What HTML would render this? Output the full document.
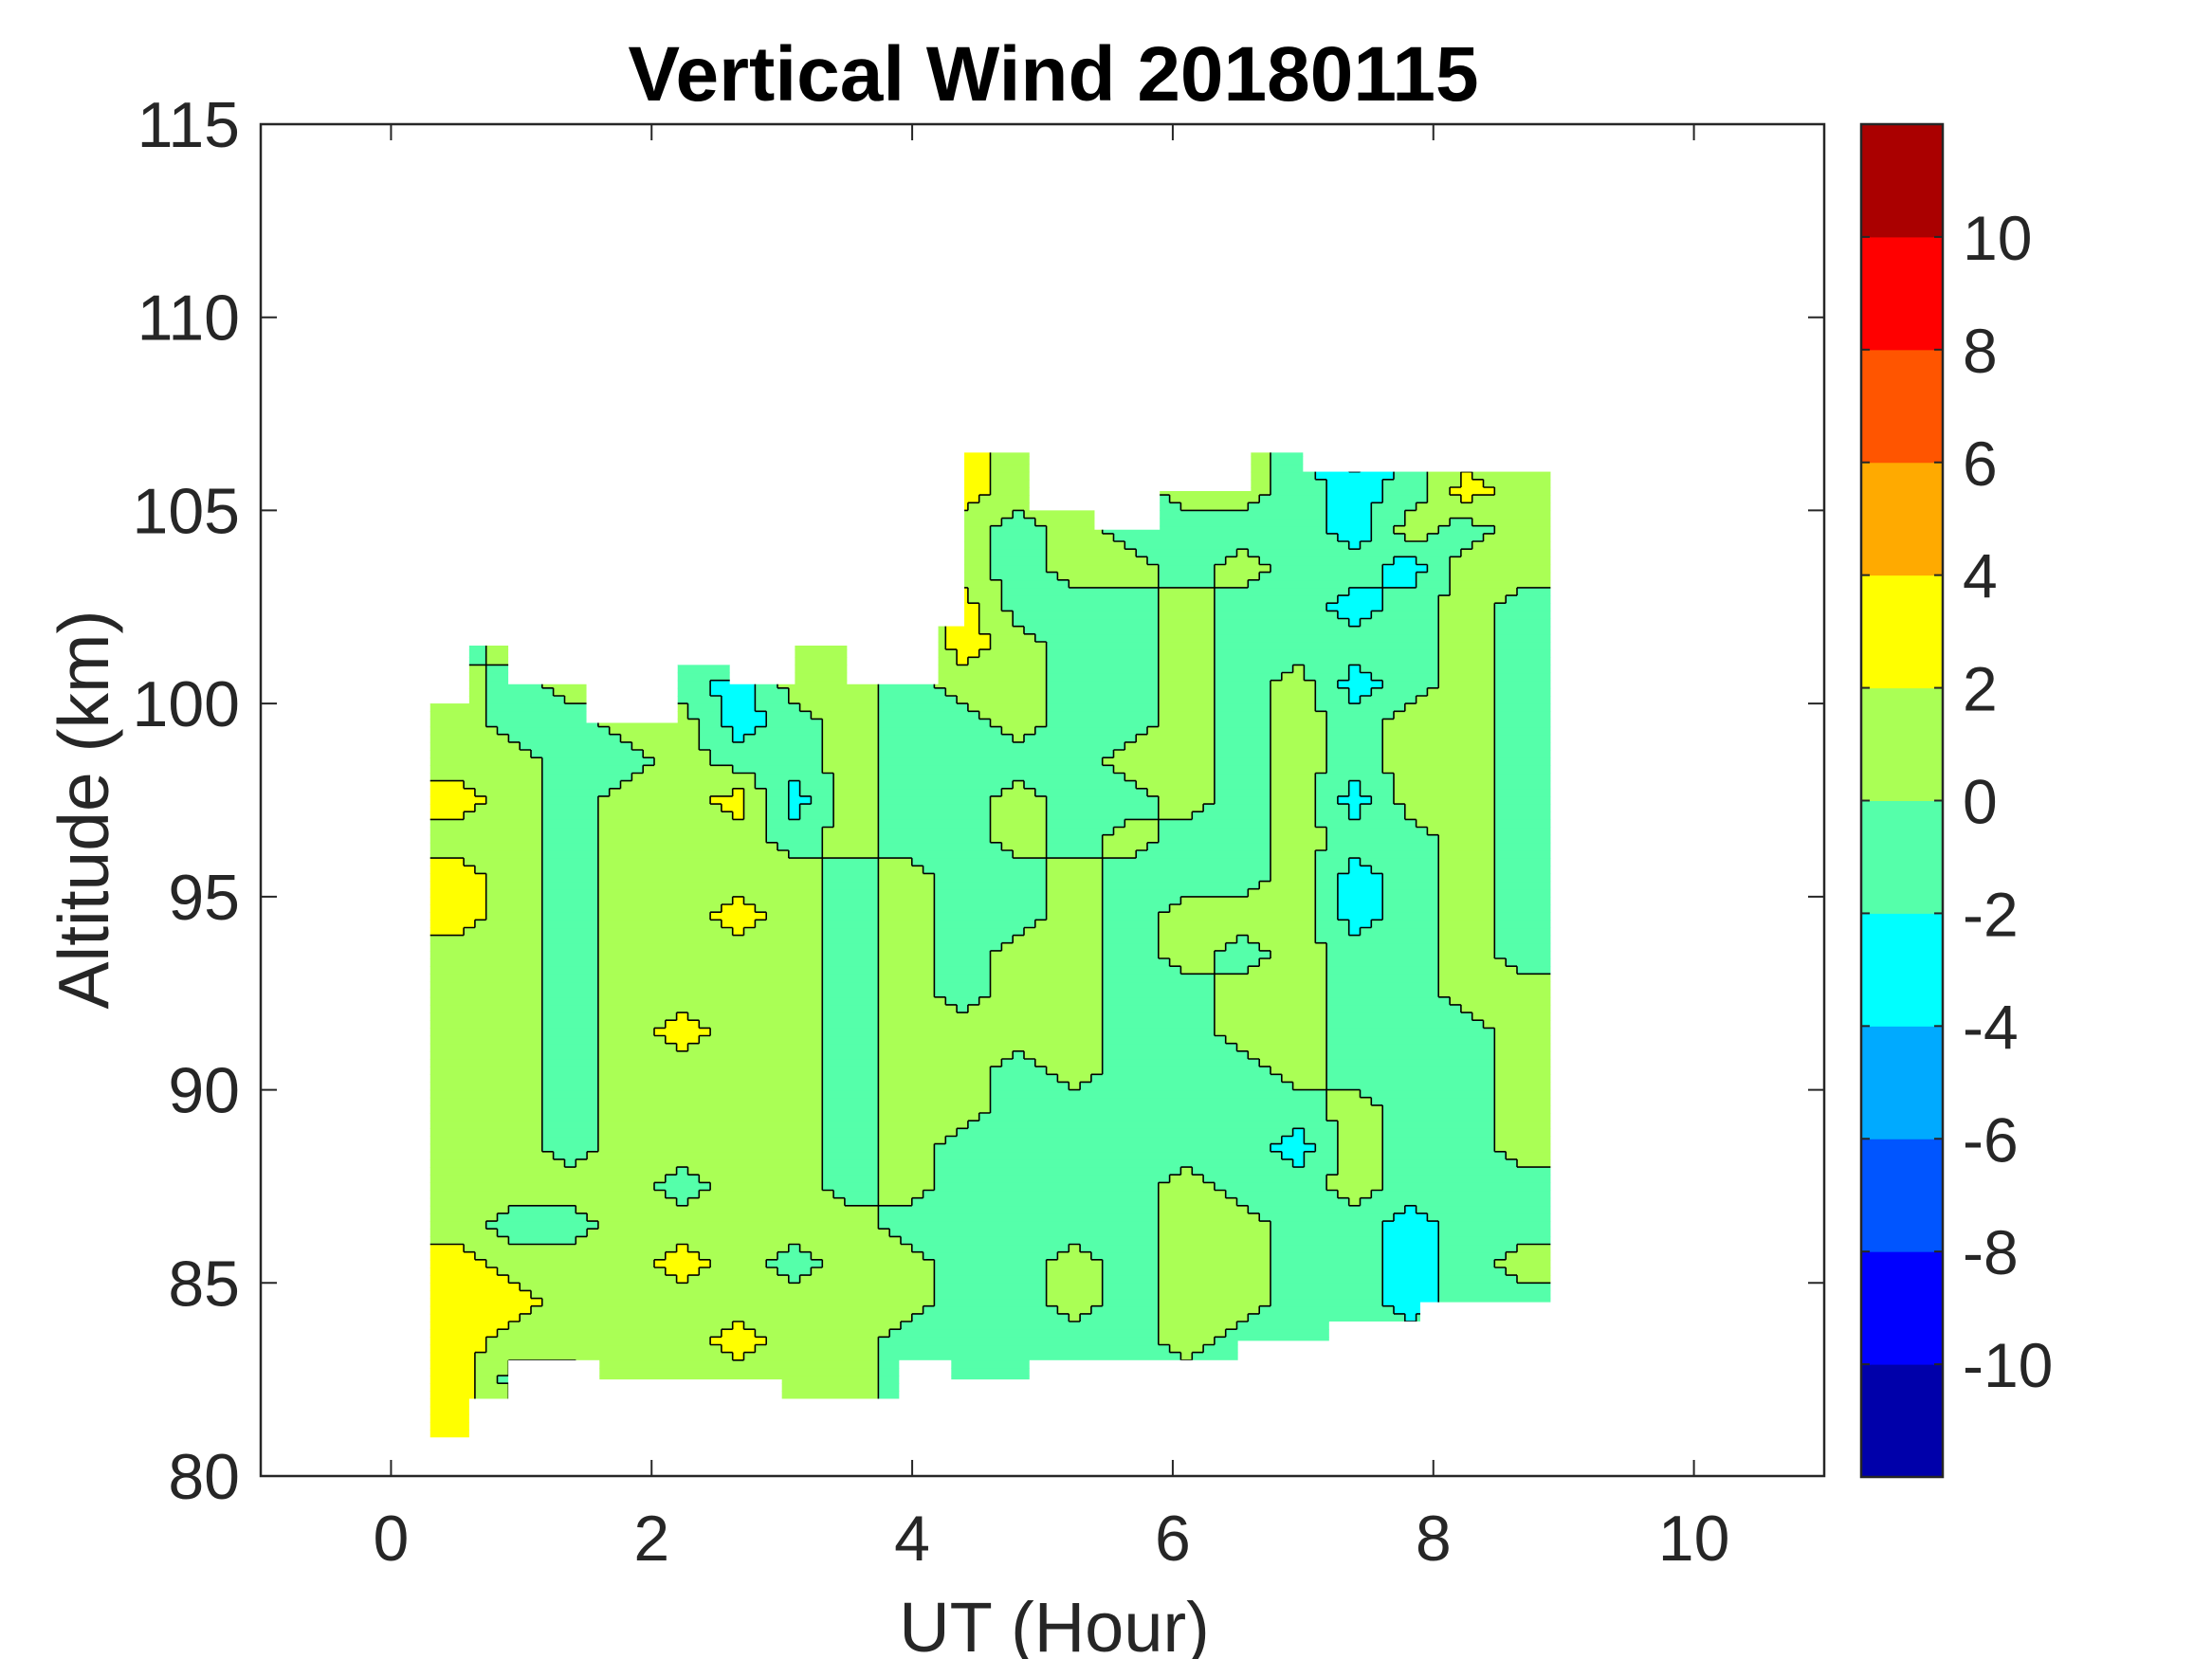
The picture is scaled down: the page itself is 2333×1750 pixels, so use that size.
<!DOCTYPE html>
<html><head><meta charset="utf-8"><style>
html,body{margin:0;padding:0;background:#fff;}
svg{display:block;font-family:"Liberation Sans",Arial,sans-serif;}
</style></head><body>
<svg id="chart" width="2333" height="1750" viewBox="0 0 2333 1750" xmlns="http://www.w3.org/2000/svg">
<rect width="2333" height="1750" fill="#fff"/>
<text x="1111" y="106" font-size="82" font-weight="bold" text-anchor="middle">Vertical Wind 20180115</text>
<g id="plot"></g>
<text x="1112" y="1742" font-size="74" text-anchor="middle" fill="#262626">UT (Hour)</text>
<text transform="translate(114,854) rotate(-90)" font-size="75" text-anchor="middle" fill="#262626">Altitude (km)</text>
</svg>
<script>
const xTicks=[0,2,4,6,8,10];
const yTicks=[80,85,90,95,100,105,110,115];
const cbTicks=[-10,-8,-6,-4,-2,0,2,4,6,8,10];
const levels=[-12,-10,-8,-6,-4,-2,0,2,4,6,8,10,12];
const levelColors=["#0000AA","#0000FF","#0055FF","#00AAFF","#00FFFF","#55FFAA","#AAFF55","#FFFF00","#FFAA00","#FF5500","#FF0000","#AA0000"];
const gridX0=0.3, gridDX=0.43, gridY0=81, gridDY=1;
// rows from 81 km upward, 20 columns each (m/s)
const windRows=[
[3,1,1,1,1,1,1,1,-1,-1,-1,-1,-1,-1,-1,-1,-1,-1,-1,-1],
[3,-1,-1,1,1,1,1,1,-1,-1,-1,-1,-1,-1,-1,-1,-1,-1,-1,-1],
[3,1,1,1,1,3,1,1,-1,-1,-1,-1,-1,1,-1,-1,-1,-1,-1,-1],
[3,3,1,1,1,1,1,1,1,-1,-1,1,-1,1,1,-1,-1,-3,-1,-1],
[3,1,1,1,3,1,-1,1,1,-1,-1,1,-1,1,1,-1,-1,-3,-1,1],
[1,-1,-1,1,1,1,1,1,-1,-1,-1,-1,-1,1,1,-1,-1,-3,-1,-1],
[1,1,1,1,-1,1,1,-1,1,-1,-1,-1,-1,1,-1,-1,1,-1,-1,-1],
[1,1,-1,1,1,1,1,-1,1,-1,-1,-1,-1,-1,-1,-3,1,-1,-1,1],
[1,1,-1,1,1,1,1,-1,1,1,-1,-1,-1,-1,-1,-1,1,-1,-1,1],
[1,1,-1,1,1,1,1,-1,1,1,-1,1,-1,-1,-1,1,-1,-1,-1,1],
[1,1,-1,1,3,1,1,-1,1,1,1,1,-1,-1,1,1,-1,-1,-1,1],
[1,1,-1,1,1,1,1,-1,1,-1,1,1,-1,-1,1,1,-1,-1,1,1],
[1,1,-1,1,1,1,1,-1,1,-1,1,1,-1,1,-1,1,-1,-1,1,-1],
[3,1,-1,1,1,3,1,-1,1,-1,-1,1,-1,1,1,1,-3,-1,1,-1],
[3,1,-1,1,1,1,1,-1,1,-1,-1,1,-1,-1,-1,1,-3,-1,1,-1],
[1,1,-1,1,1,1,-1,1,-1,-1,1,-1,1,-1,-1,1,-1,-1,1,-1],
[3,1,-1,1,1,3,-3,1,-1,-1,1,-1,-1,1,-1,1,-3,1,1,-1],
[1,1,-1,-1,1,-1,-1,1,-1,-1,-1,-1,1,1,-1,1,-1,1,1,-1],
[1,-1,-1,1,1,-3,-1,1,-1,-1,1,-1,-1,1,-1,1,-1,1,1,-1],
[1,-1,1,-1,-1,-3,1,1,-1,1,1,-1,-1,1,-1,1,-3,-1,1,-1],
[-1,1,-1,1,-1,1,1,1,-1,3,1,-1,-1,1,-1,-1,-1,-1,1,-1],
[1,1,1,1,1,1,1,1,1,3,-1,-1,-1,1,-1,-1,-3,-1,1,-1],
[1,1,1,1,1,1,1,1,1,1,-1,1,1,-1,1,-1,-1,-3,1,1],
[1,1,1,1,1,1,1,1,1,1,-1,1,-1,-1,-1,-1,-3,1,-1,1],
[1,1,1,1,1,1,1,1,1,3,1,1,-1,1,1,-1,-3,-1,3,1],
[1,1,1,1,1,1,1,1,1,3,1,1,1,1,1,-1,-5,-1,1,1]
];
const topX=[0.3,0.6,0.9,1.5,2.2,2.6,3.1,3.5,4.2,4.4,4.9,5.4,5.9,6.6,7.0,8.9];
const topAlt=[100,101.5,100.5,99.5,101,100.5,101.5,100.5,102,106.5,105,104.5,105.5,106.5,106];
const botX=[0.3,0.6,0.9,1.6,3.0,3.9,4.3,4.9,6.5,7.2,7.9,8.9];
const botAlt=[81,82,83,82.5,82,83,82.5,83,83.5,84,84.5];

const L=275,R=1924,T=131,B=1557;
const xMin=-1,xMax=11,yMin=80,yMax=115;
const sx=v=>L+(v-xMin)/(xMax-xMin)*(R-L);
const sy=v=>B-(v-yMin)/(yMax-yMin)*(B-T);
const NS="http://www.w3.org/2000/svg";
const plot=document.getElementById('plot');
function mk(tag,attrs,parent){const e=document.createElementNS(NS,tag);for(const k in attrs)e.setAttribute(k,attrs[k]);(parent||plot).appendChild(e);return e;}
function cls(v){for(let i=0;i<levels.length-1;i++){if(v>=levels[i]&&v<levels[i+1])return i;}return levels.length-2;}

let pts=[];
for(let i=0;i<topAlt.length;i++){pts.push([sx(topX[i]),sy(topAlt[i])]);pts.push([sx(topX[i+1]),sy(topAlt[i])]);}
for(let i=botAlt.length-1;i>=0;i--){pts.push([sx(botX[i+1]),sy(botAlt[i])]);pts.push([sx(botX[i]),sy(botAlt[i])]);}
const defs=mk('defs',{});
const cp=mk('clipPath',{id:'dataClip'},defs);
mk('polygon',{points:pts.map(p=>p.join(',')).join(' ')},cp);

const field=mk('g',{'clip-path':'url(#dataClip)'});


const nR=windRows.length,nC=windRows[0].length;
const SUB=5;
function val(xh,ya){
  let fc=(xh-gridX0)/gridDX-0.5, fr=(ya-gridY0)/gridDY-0.5;
  fc=Math.max(0,Math.min(nC-1,fc)); fr=Math.max(0,Math.min(nR-1,fr));
  const c0=Math.min(nC-2,Math.floor(fc)), r0=Math.min(nR-2,Math.floor(fr));
  const tx=fc-c0, ty=fr-r0;
  const a=windRows[r0][c0],b=windRows[r0][c0+1],c=windRows[r0+1][c0],d=windRows[r0+1][c0+1];
  return a*(1-tx)*(1-ty)+b*tx*(1-ty)+c*(1-tx)*ty+d*tx*ty;
}
const FC=nC*SUB, FR=nR*SUB, fdx=gridDX/SUB, fdy=gridDY/SUB;
const K=[];
for(let r=0;r<FR;r++){K.push([]);for(let c=0;c<FC;c++){K[r].push(cls(val(gridX0+(c+0.5)*fdx,gridY0+(r+0.5)*fdy)));}}
for(let r=0;r<FR;r++){
  let c=0;
  while(c<FC){
    let e=c; while(e+1<FC&&K[r][e+1]===K[r][c]) e++;
    const x0=sx(gridX0+c*fdx),x1=sx(gridX0+(e+1)*fdx);
    const y1=sy(gridY0+r*fdy),y0=sy(gridY0+(r+1)*fdy);
    const cell=mk('rect',{x:x0,y:y0,width:x1-x0+0.6,height:y1-y0+0.6,fill:levelColors[K[r][c]]},field);
    
    
    c=e+1;
  }
}
let d='';
for(let r=0;r<FR;r++)for(let c=0;c<FC;c++){
  const k=K[r][c];
  if(c+1<FC&&K[r][c+1]!==k){const x=sx(gridX0+(c+1)*fdx).toFixed(1);d+=`M${x} ${sy(gridY0+r*fdy).toFixed(1)}V${sy(gridY0+(r+1)*fdy).toFixed(1)}`;}
  if(r+1<FR&&K[r+1][c]!==k){const y=sy(gridY0+(r+1)*fdy).toFixed(1);d+=`M${sx(gridX0+c*fdx).toFixed(1)} ${y}H${sx(gridX0+(c+1)*fdx).toFixed(1)}`;}
}
const cl=mk('path',{d:d,fill:'none',stroke:'#000','stroke-width':1.6},field);



const box=mk('rect',{x:L,y:T,width:R-L,height:B-T,fill:'none',stroke:'#262626','stroke-width':2.5});


xTicks.forEach(v=>{
  const x=sx(v);
  mk('line',{x1:x,x2:x,y1:B,y2:B-17,stroke:'#262626','stroke-width':2});
  mk('line',{x1:x,x2:x,y1:T,y2:T+17,stroke:'#262626','stroke-width':2});
  const t=mk('text',{x:x,y:1646,'font-size':68,'text-anchor':'middle',fill:'#262626'});t.textContent=v;
  
  
});
yTicks.forEach(v=>{
  const y=sy(v);
  mk('line',{x1:L,x2:L+17,y1:y,y2:y,stroke:'#262626','stroke-width':2});
  mk('line',{x1:R,x2:R-17,y1:y,y2:y,stroke:'#262626','stroke-width':2});
  const t=mk('text',{x:253,y:y+24,'font-size':68,'text-anchor':'end',fill:'#262626'});t.textContent=v;
  
  
});
const CL=1963,CR=2049,CT=131,CB=1558;
const cby=v=>CB-(v-levels[0])/(levels[levels.length-1]-levels[0])*(CB-CT);
const cb=mk('g',{});


for(let i=0;i<levelColors.length;i++){
  const y0=cby(levels[i+1]),y1=cby(levels[i]);
  const s=mk('rect',{x:CL,y:y0,width:CR-CL,height:y1-y0+0.5,fill:levelColors[i]},cb);
  
  
}
mk('rect',{x:CL,y:CT,width:CR-CL,height:CB-CT,fill:'none',stroke:'#262626','stroke-width':2.5},cb);
cbTicks.forEach(v=>{
  const y=cby(v);
  mk('line',{x1:CR,x2:CR-9,y1:y,y2:y,stroke:'#262626','stroke-width':2},cb);
  mk('line',{x1:CL,x2:CL+9,y1:y,y2:y,stroke:'#262626','stroke-width':2},cb);
  const t=mk('text',{x:2070,y:y+24,'font-size':66,fill:'#262626'},cb);t.textContent=v;
  
  
});
</script>
</body></html>
